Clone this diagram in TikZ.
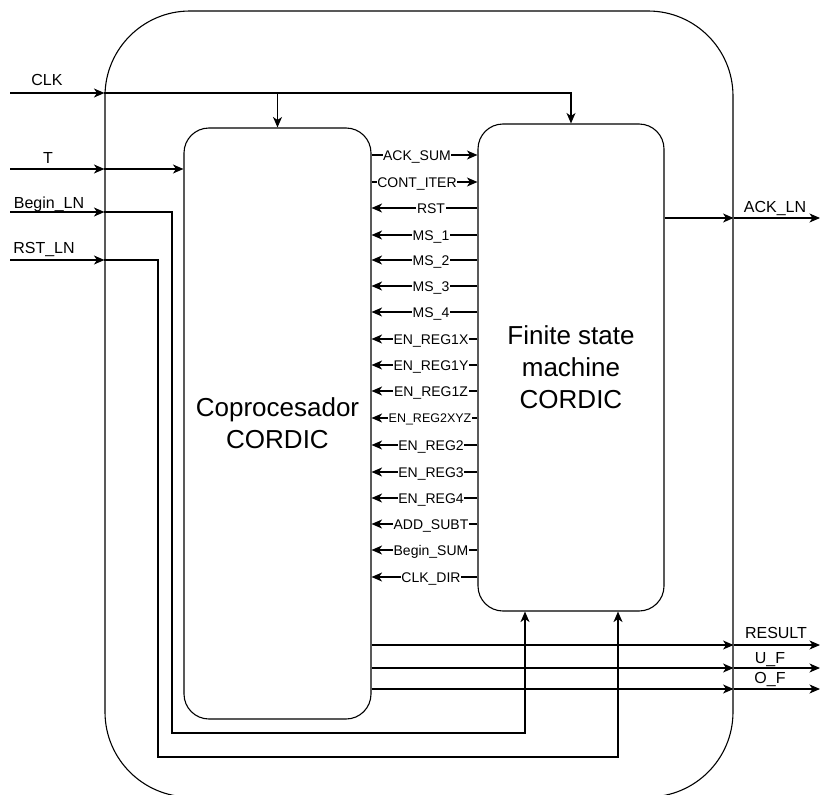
\documentclass[tikz,border=0pt]{standalone}
\usepackage{fontspec}
\setmainfont{Liberation Sans}
\usetikzlibrary{arrows.meta,calc}
\begin{document}
\begin{tikzpicture}[x=1pt,y=-1pt,
  line width=1.1pt,
  arr/.style={-{Stealth[length=10.5pt,width=9pt,inset=3pt]}},
  blk/.style={draw, rounded corners=25pt, inner sep=0pt, font=\fontsize{26}{32}\selectfont, align=center},
  sig/.style={fill=white, inner sep=0.6pt, font=\fontsize{14}{14}\selectfont, text height=10pt, text depth=0pt},
  pin/.style={inner sep=0pt, font=\fontsize{16}{16}\selectfont, text height=11.5pt, text depth=0pt}]
\useasboundingbox (0,0) rectangle (820,795);

% blocks
\node[draw, rounded corners=85pt, minimum width=628pt, minimum height=786pt, inner sep=0pt] (sys) at (419,404) {};
\node[blk, minimum width=187pt, minimum height=591pt] (copro) at (277.5,423.5) {Coprocesador\\CORDIC};
\node[blk, minimum width=186pt, minimum height=487pt] (fsm) at (571,367.5) {Finite state\\machine\\CORDIC};

% pin coordinates
\coordinate (clkin) at (10,93);
\coordinate (tin) at (10,169);
\coordinate (bin) at (10,212);
\coordinate (rin) at (10,260);
\coordinate (bup) at (525,733);
\coordinate (rup) at (618,757);
\coordinate (ackout) at (820,218);
\coordinate (resout) at (820,645);
\coordinate (ufout) at (820,668);
\coordinate (ofout) at (820,689);

% inputs
\draw[arr] (clkin) -- (sys.west |- clkin);
\draw[arr] (sys.west |- clkin) -| (fsm.north);
\draw[arr] (copro.north |- clkin) -- (copro.north);
\draw[arr] (tin) -- (sys.west |- tin);
\draw[arr] (sys.west |- tin) -- (copro.west |- tin);
\draw[arr] (bin) -- (sys.west |- bin);
\draw[arr] (sys.west |- bin) -| (172,733) -| (fsm.south -| bup);
\draw[arr] (rin) -- (sys.west |- rin);
\draw[arr] (sys.west |- rin) -| (158,757) -| (fsm.south -| rup);

% outputs
\draw[arr] (fsm.east |- ackout) -- (sys.east |- ackout);
\draw[arr] (sys.east |- ackout) -- (ackout);
\draw[arr] (copro.east |- resout) -- (sys.east |- resout);
\draw[arr] (sys.east |- resout) -- (resout);
\draw[arr] (copro.east |- ufout) -- (sys.east |- ufout);
\draw[arr] (sys.east |- ufout) -- (ufout);
\draw[arr] (copro.east |- ofout) -- (sys.east |- ofout);
\draw[arr] (sys.east |- ofout) -- (ofout);

% pin labels
\node[pin] (lclk) at (47,80) {CLK};
\node[pin] (lt) at (48,158) {T};
\node[pin] (lbegin) at (49,203) {Begin\_LN};
\node[pin] (lrst) at (44,248) {RST\_LN};
\node[pin] (lack) at (775,207) {ACK\_LN};
\node[pin] (lres) at (776,633) {RESULT};
\node[pin] (luf) at (770,658) {U\_F};
\node[pin] (lof) at (770,678) {O\_F};

% internal signals, coprocessor -> FSM
\foreach \y/\t/\n in {155/ACK\_SUM/sa, 182/CONT\_ITER/sb} {
  \draw[arr] (copro.east |- 0,\y) -- (fsm.west |- 0,\y);
  \node[sig] (\n) at (417,\y) {\t};
}
% internal signals, FSM -> coprocessor
\foreach \y/\t/\n in {208/RST/s1, 235/MS\_1/s2, 260/MS\_2/s3, 286/MS\_3/s4, 312/MS\_4/s5,
  339/EN\_REG1X/s6, 365/EN\_REG1Y/s7, 391/EN\_REG1Z/s8, 445/EN\_REG2/s10,
  472/EN\_REG3/s11, 498/EN\_REG4/s12, 524/ADD\_SUBT/s13, 550/Begin\_SUM/s14, 577/CLK\_DIR/s15} {
  \draw[arr] (fsm.west |- 0,\y) -- (copro.east |- 0,\y);
  \node[sig] (\n) at (431,\y) {\t};
}
\draw[arr] (fsm.west |- 0,418) -- (copro.east |- 0,418);
\node[sig, font=\fontsize{12.5}{12.5}\selectfont, text height=9pt] (s9) at (430,418) {EN\_REG2XYZ};

\end{tikzpicture}
\end{document}
